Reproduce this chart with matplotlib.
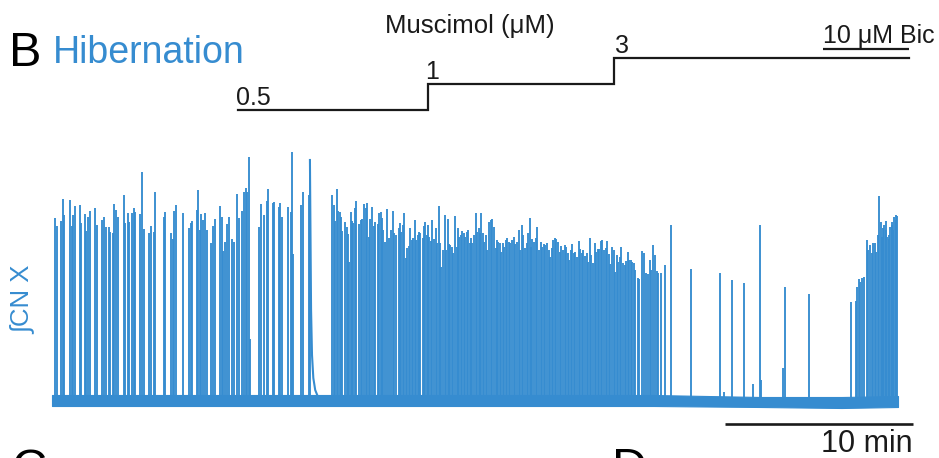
import matplotlib
matplotlib.use("Agg")
import matplotlib.pyplot as plt

# ---------------- data ----------------
# burst times (min) and integrated amplitudes (a.u.)
spike_t = [
    0.14, 0.27, 0.48, 0.59, 0.64, 0.96, 1.06, 1.12, 1.22, 1.49, 1.56, 1.74, 1.81, 1.91, 2.01,
    2.30, 2.41, 2.68, 2.75, 2.86, 3.03, 3.10, 3.23, 3.31, 3.40, 3.53, 3.83, 3.90, 4.03, 4.11,
    4.24, 4.36, 4.43, 4.70, 4.80, 4.89, 5.16, 5.27, 5.41, 5.49, 5.94, 6.03, 6.35, 6.44, 6.51,
    6.60, 6.97, 7.29, 7.38, 7.46, 7.70, 7.77, 7.87, 7.94, 8.03, 8.15, 8.23, 8.47, 8.55, 8.65,
    8.92, 9.06, 9.11, 9.19, 9.32, 9.43, 9.56, 9.68, 9.84, 9.96, 10.12, 10.21, 10.30, 10.36, 10.46,
    10.53, 11.01, 11.12, 11.29, 11.42, 11.47, 11.74, 11.82, 12.06, 12.14, 12.23, 12.54, 12.70, 12.77,
    12.84, 13.24, 13.35, 13.65, 13.72,
    14.91, 14.98, 15.05, 15.14, 15.21, 15.30, 15.37, 15.44, 15.59, 15.68, 15.74, 15.81, 15.89, 15.96,
    16.03, 16.10, 16.17, 16.35, 16.44, 16.51, 16.61, 16.69, 16.76, 16.85, 16.91, 17.02, 17.11, 17.20,
    17.32, 17.39, 17.48, 17.55, 17.62, 17.71, 17.84, 17.91, 18.02, 18.12, 18.19, 18.30, 18.44, 18.51,
    18.58, 18.65, 18.72, 18.83, 18.90, 18.99, 19.06, 19.13, 19.22, 19.31, 19.38, 19.45, 19.52, 19.59,
    19.72, 19.79, 19.86, 19.93, 20.00, 20.07, 20.14, 20.23, 20.32, 20.41, 20.48, 20.57, 20.64, 20.71,
    20.80, 20.89, 20.96, 21.05, 21.12, 21.19, 21.28, 21.35, 21.42, 21.53, 21.60, 21.66, 21.74, 21.82,
    21.90, 21.97, 22.06, 22.13, 22.22, 22.29, 22.36, 22.45, 22.55, 22.62, 22.70, 22.77, 22.84, 22.91,
    22.98, 23.07, 23.14, 23.26, 23.35, 23.42, 23.51, 23.60, 23.67, 23.74, 23.83, 23.90, 23.97, 24.06,
    24.15, 24.22, 24.31, 24.38, 24.47, 24.57, 24.64, 24.73, 24.82, 24.91, 24.98, 25.07, 25.16, 25.25,
    25.32, 25.41, 25.48, 25.55, 25.64, 25.73, 25.81, 25.90, 25.99, 26.08, 26.17, 26.24, 26.33, 26.42,
    26.49, 26.60, 26.66, 26.76, 26.82, 26.91, 27.00, 27.09, 27.18, 27.27, 27.36, 27.43, 27.50, 27.59,
    27.66, 27.75, 27.84, 27.93, 28.02, 28.10, 28.18, 28.26, 28.35, 28.44, 28.53, 28.62, 28.69, 28.78,
    28.87, 28.94, 29.03, 29.11, 29.19, 29.27, 29.36, 29.45, 29.54, 29.61, 29.70, 29.79, 29.88, 29.96,
    30.04, 30.11, 30.20, 30.28, 30.37, 30.46, 30.55, 30.62, 30.71, 30.78, 30.87, 30.94, 31.03, 31.15,
    31.24, 31.38, 31.49, 31.60, 31.69, 31.79, 31.86, 31.97, 32.06, 32.16, 32.23, 32.38, 32.62,
    32.94, 33.97, 35.52, 35.74, 36.17, 36.81, 37.30, 37.66, 37.73, 38.90, 38.99, 40.28,
    42.50, 42.75, 42.84, 42.91, 43.00, 43.09, 43.18, 43.35, 43.43, 43.51, 43.60, 43.67, 43.76, 43.85,
    43.91, 43.99, 44.08, 44.15, 44.22, 44.28, 44.34, 44.38, 44.41, 44.50, 44.54, 44.57, 44.66, 44.70,
    44.73, 44.80, 44.87, 44.91, 44.95,
]
spike_a = [
    182, 174, 179, 201, 185, 200, 174, 185, 194, 195, 177, 186, 169, 183, 189,
    192, 175, 180, 183, 173, 173, 168, 167, 196, 190, 183, 205, 177, 187, 178,
    187, 192, 188, 186, 228, 171, 167, 174, 168, 208, 183, 188, 167, 161, 189,
    195, 187, 172, 177, 179, 190, 210, 170, 186, 180, 187, 170, 157, 174, 181,
    194, 183, 149, 158, 176, 183, 161, 158, 206, 182, 189, 208, 212, 208, 243,
    61, 173, 196, 185, 199, 211, 197, 198, 193, 197, 183, 193, 188, 248,
    146, 195, 208, 205, 240,
    205, 195, 179, 211, 189, 188, 183, 169, 178, 173, 166, 138, 188, 179,
    177, 192, 199, 176, 180, 181, 196, 192, 197, 163, 181, 193, 174, 178,
    176, 187, 188, 182, 170, 158, 191, 162, 170, 189, 167, 165, 172, 177,
    168, 175, 187, 142, 152, 154, 172, 160, 162, 180, 160, 165, 168, 167,
    162, 174, 178, 165, 175, 163, 159, 180, 161, 172, 157, 194, 157, 133,
    150, 185, 150, 181, 156, 155, 153, 147, 184, 153, 172, 163, 165, 169,
    167, 163, 168, 170, 157, 162, 157, 165, 187, 168, 172, 167, 187, 167,
    158, 165, 150, 178, 180, 181, 173, 152, 160, 158, 157, 148, 157, 153,
    160, 162, 158, 157, 160, 163, 156, 158, 170, 150, 175, 165, 152, 157,
    167, 182, 153, 161, 158, 162, 173, 150, 158, 153, 156, 155, 157, 150,
    143, 152, 160, 162, 161, 158, 148, 154, 150, 155, 153, 147, 140, 150,
    156, 147, 148, 143, 159, 151, 147, 150, 144, 147, 138, 162, 145, 137,
    157, 148, 151, 151, 159, 160, 150, 152, 159, 146, 136, 153, 150, 128,
    145, 138, 143, 153, 137, 135, 139, 148, 140, 140, 138, 137, 130, 122,
    121, 149, 147, 127, 126, 140, 130, 155, 145, 129, 127, 127, 135,
    175, 131, 127, 8, 120, 117, 16, 175, 20, 32, 113, 106,
    98, 99, 113, 121, 118, 122, 123, 160, 150, 155, 147, 157, 157, 148,
    165, 204, 178, 163, 172, 175, 179, 170, 163, 161, 165, 173, 178, 175,
    170, 183, 185, 180, 184,
]
# slow decay after the long burst at ~13.7 min
tail_t = [13.72, 13.78, 13.83, 13.90, 14.00, 14.15]
tail_a = [240, 90, 45, 22, 10, 3]
# baseline noise envelope
base_t = [0.0, 14.0, 32.0, 37.7, 42.0, 45.0]
base_hi = [5, 5, 5, 3, 3, 4]
base_lo = [-6, -6, -6, -7, -8, -7]

# drug protocol
conc_labels = ["0.5", "1", "3"]
conc_start = [9.9, 20.0, 29.9]
protocol_end = 45.6
bic_label = "10 μM Bic"
bic_start = 41.0
scale_min = 10
scale_start = 35.8

# ---------------- figure ----------------
W, H = 939, 458
BLUE = "#368cd0"
INK = "#1a1a1a"
plt.rcParams["font.family"] = ["Liberation Sans", "DejaVu Sans"]

fig = plt.figure(figsize=(W / 100, H / 100), dpi=100)
fig.patch.set_facecolor("white")

# trace axes: 18.8 px per minute, trace starts at x=52 px; baseline at y=400 px
PX_PER_MIN = 18.8
ax = fig.add_axes([0, 0, 1, 1])
ax.set_xlim(-52 / PX_PER_MIN, (W - 52) / PX_PER_MIN)
ax.set_ylim(400 - H, 400)
ax.axis("off")

ax.fill_between(base_t, base_lo, base_hi, color=BLUE, lw=0.8, ec=BLUE)
ax.vlines(spike_t, 0, spike_a, color=BLUE, lw=1.35)
ax.plot(tail_t, tail_a, color=BLUE, lw=1.5)

# scale bar
ax.plot([scale_start, scale_start + scale_min], [-24, -24], color=INK, lw=1.9,
        solid_capstyle="butt", clip_on=False)

def px(x, y):
    return x / W, 1 - y / H

fig.text(*px(913, 452), f"{scale_min} min", fontsize=22, color=INK, ha="right", va="baseline")

# protocol axes (levels 1..3)
axd = fig.add_axes([0, (H - 110) / H, 1, 52 / H])
axd.set_xlim(ax.get_xlim())
axd.set_ylim(1, 3)
axd.axis("off")
levels = [1, 2, 3]
xs = [conc_start[0]]
ys = [levels[0]]
for i in range(1, len(levels)):
    xs += [conc_start[i], conc_start[i]]
    ys += [levels[i - 1], levels[i]]
xs.append(protocol_end)
ys.append(levels[-1])
axd.plot(xs, ys, color=INK, lw=1.6, clip_on=False, solid_joinstyle="miter")
label_dx = [-1.2, -2.0, 0.4]
for lab, t0, lv, dx in zip(conc_labels, conc_start, levels, label_dx):
    axd.annotate(lab, (t0, lv), xytext=(dx, 3.8), textcoords="offset points",
                 fontsize=18, color=INK, ha="left", va="baseline")
axd.plot([bic_start, protocol_end], [3.35, 3.35], color=INK, lw=1.6, clip_on=False,
         solid_capstyle="butt")

fig.text(*px(935, 43), bic_label, fontsize=18, color=INK, ha="right", va="baseline")
fig.text(*px(470, 33), "Muscimol (μM)", fontsize=18.5, color=INK, ha="center", va="baseline")

fig.text(*px(9, 66), "B", fontsize=35, color="black", ha="left", va="baseline")
fig.text(*px(53, 63), "Hibernation", fontsize=27, color=BLUE, ha="left", va="baseline")
fig.text(*px(23, 300), "∫CN X", fontsize=18.5, color=BLUE, rotation=90, ha="center", va="center")

# partial panel letters of the next row (cut by the lower edge, as in the source)
fig.text(*px(12, 448), "C", fontsize=35, color="black", ha="left", va="top")
fig.text(*px(612, 447), "D", fontsize=35, color="black", ha="left", va="top")

fig.savefig("out.png", dpi=100, facecolor="white")
